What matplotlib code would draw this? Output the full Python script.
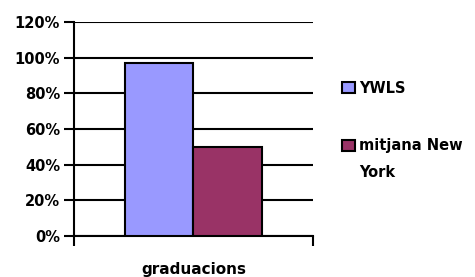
import matplotlib
matplotlib.use('Agg')
import matplotlib.pyplot as plt
from matplotlib.patches import Rectangle
from matplotlib.legend_handler import HandlerPatch

# Data
category = "graduacions"
series_names = ["YWLS", "mitjana New\nYork"]
series_values = [0.97, 0.50]
series_colors = ['#9999FF', '#993366']
y_ticks = [0, 0.2, 0.4, 0.6, 0.8, 1.0, 1.2]

plt.rcParams['font.family'] = ['DejaVu Sans']
plt.rcParams['font.weight'] = 'bold'

fig = plt.figure(figsize=(4.75, 2.77), dpi=100)
ax = fig.add_axes([0.1558, 0.148, 0.503, 0.7726])

width = 0.287
offsets = [-width / 2, width / 2]
bars = []
for name, val, col, off in zip(series_names, series_values, series_colors, offsets):
    b = ax.bar(off, val, width=width, color=col, edgecolor='black',
               linewidth=1.5, label=name, zorder=3)
    bars.append(b)

ax.set_xlim(-0.5, 0.5)
ax.set_ylim(0, 1.2)
ax.set_yticks(y_ticks)
ax.set_yticklabels([f"{int(round(v * 100))}%" for v in y_ticks],
                   fontsize=10.5, fontweight='bold')
ax.grid(axis='y', color='black', linewidth=1.5, zorder=0)
ax.tick_params(axis='y', length=7, width=1.5, pad=3)

# category label and edge tick marks
ax.set_xticks([0])
ax.set_xticklabels([category], fontsize=11, fontweight='bold')
ax.tick_params(axis='x', which='major', length=0, pad=19)
ax.set_xticks([-0.5, 0.5], minor=True)
ax.tick_params(axis='x', which='minor', length=7, width=1.5, direction='out')

for s in ['top', 'right']:
    ax.spines[s].set_visible(False)
for s in ['left', 'bottom']:
    ax.spines[s].set_linewidth(1.5)


# legend square sits on the first line of a wrapped label
def square_first_line(nlines):
    def make(legend, orig_handle, xdescent, ydescent, width, height, fontsize):
        shift = (nlines - 1) * fontsize * 1.0
        return Rectangle((-xdescent, -ydescent + shift), width, height)
    return HandlerPatch(patch_func=make)


handles = [b[0] for b in bars]
hmap = {h: square_first_line(n.count('\n') + 1) for h, n in zip(handles, series_names)}
leg = fig.legend(handles=handles, labels=series_names, handler_map=hmap,
                 loc='upper left', bbox_to_anchor=(0.705, 0.735),
                 frameon=False, borderpad=0, handlelength=0.85, handleheight=0.85,
                 handletextpad=0.3, labelspacing=2.9,
                 prop={'family': 'DejaVu Sans', 'weight': 'bold', 'size': 10.5})
for t in leg.get_texts():
    t.set_linespacing(2.0)

fig.savefig('out.png', dpi=100, facecolor='white')
